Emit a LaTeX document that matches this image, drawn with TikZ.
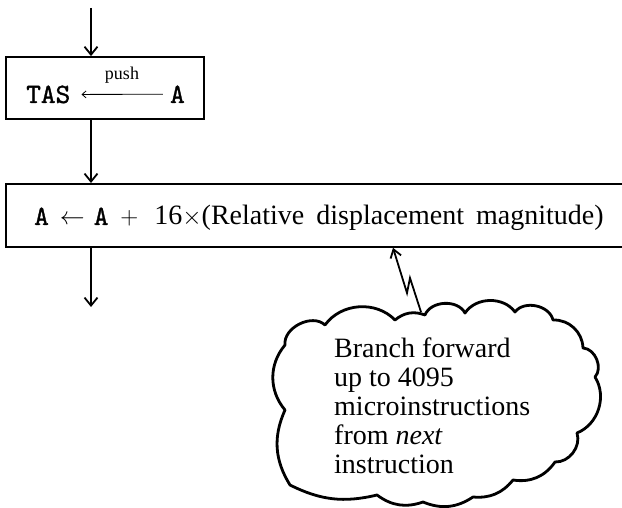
\documentclass[tikz,border=0pt]{standalone}
\usepackage{fontspec}
\setmainfont{Liberation Serif}
\setmonofont{lmmono10-regular.otf}[AutoFakeBold=1.2]
\usetikzlibrary{arrows.meta,calc}
\begin{document}
\begin{tikzpicture}[x=1pt,y=-1pt,
  flow/.style={line width=1.8pt,-{Straight Barb[length=8pt,width=13pt,line width=1.8pt]}},
  pusharrow/.style={line width=0.8pt,-{Straight Barb[length=4pt,width=7pt,line width=0.8pt]}},
  zig/.style={line width=1.8pt,line join=miter,-{Straight Barb[length=8pt,width=11pt,line width=1.8pt]}},
  boxst/.style={draw,line width=1.8pt,inner sep=0pt},
  cloudline/.style={line width=2.8pt,line join=round,line cap=round},
  txt/.style={inner sep=0pt,font=\fontsize{28}{28}\selectfont},
  tt/.style={inner sep=0pt,font=\fontsize{28}{28}\selectfont\ttfamily\bfseries},
]
\useasboundingbox (0,0) rectangle (622,508);
\clip (0,0) rectangle (622,508);

% box 1
\node[boxst,minimum width=198pt,minimum height=62pt] (b1) at (105,88) {};
\node[tt,anchor=base west] (tas) at (26,103) {TAS};
\node[tt,anchor=base east] (a1) at (185,103) {A};
\node[inner sep=0pt,anchor=base,font=\fontsize{18}{18}\selectfont] (push) at (122,80) {push};
\draw[pusharrow,shorten <=7pt,shorten >=11pt] (a1.west) -- (tas.east);

% box 2
\node[boxst,minimum width=640pt,minimum height=63pt,anchor=north west] (b2) at (5,183) {};
\node[txt,anchor=base west] (t2) at (34,225)
  {{\ttfamily\bfseries A}\hspace{11pt}$\leftarrow$\hspace{9pt}{\ttfamily\bfseries A}\hspace{12pt}$+$\hspace{16pt}16$\times$(Relative\hspace{12pt}displacement\hspace{12pt}magnitude)};

% flow arrows
\coordinate (top) at (91,8);
\coordinate (bot) at (91,307);
\draw[flow] (top) -- (top |- b1.north);
\draw[flow] (top |- b1.south) -- (top |- b2.north);
\draw[flow] (top |- b2.south) -- (bot);

% cloud
\draw[cloudline]
  (290,485) to[bend left=28] (285,410)
  to[bend left=40] (285,345)
  to[bend left=70] (325,325)
  to[bend left=50] (395,320)
  to[bend left=30] (425,315)
  to[bend left=65] (465,313)
  to[bend left=55] (515,312)
  to[bend left=65] (553,320)
  to[bend left=45] (583,348)
  to[bend left=65] (595,377)
  to[bend left=50] (577,433)
  to[bend left=55] (555,462)
  to[bend left=32] (513,480)
  to[bend left=28] (473,497)
  to[bend left=28] (423,502)
  to[bend left=28] (377,495)
  to[bend left=20] cycle;

\node[txt,anchor=base west,align=left,font=\fontsize{28}{29}\selectfont] (ct) at (334,473)
  {Branch forward\\up to 4095\\microinstructions\\from \textit{next}\\instruction};

% zigzag pointer
\coordinate (zx) at (393,0);
\coordinate (z0) at (421,312);
\coordinate (z1) at (410,278);
\coordinate (z2) at (407,293);
\draw[zig] (z0) -- (z1) -- (z2) -- (b2.south -| zx);
\end{tikzpicture}
\end{document}
